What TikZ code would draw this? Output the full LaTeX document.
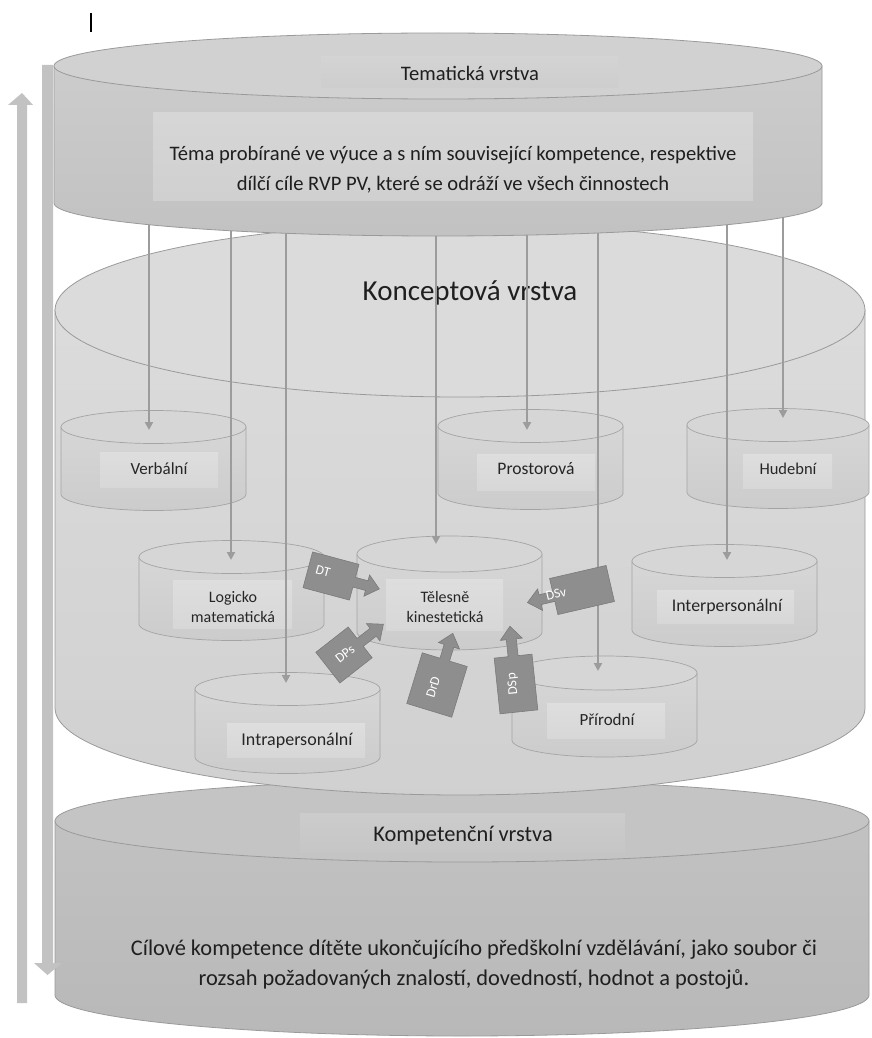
\documentclass[tikz,border=0pt]{standalone}
\usepackage{fontspec}
\setmainfont{Carlito}
\usetikzlibrary{arrows.meta}
\definecolor{outl}{HTML}{9A9A9A}
\definecolor{arrg}{HTML}{9C9C9C}
\definecolor{barg}{HTML}{C2C2C2}
\definecolor{calf}{HTML}{8E8E8E}
\definecolor{cald}{HTML}{7A7A7A}
\colorlet{botS}{black!24}
\colorlet{botT}{black!23}
\colorlet{botL}{black!20}
\colorlet{conS}{black!14}
\colorlet{topS}{black!20}
\colorlet{topT}{black!18}
\colorlet{topL}{black!17}
\colorlet{topB}{black!16}
\colorlet{smL}{black!13}
\newcommand{\mycyl}[7]{%
 \path[#6] ({#1-#4},#2) -- ({#1-#4},#3) -- plot[domain=180:360,samples=90] ({#1+#4*cos(\x)},{#3-#5*sin(\x)}) -- ({#1+#4},#2) -- cycle;
 \path[#7] (#1,#2) ellipse[x radius=#4pt, y radius=#5pt];}
\newcommand{\mycallout}[6]{%
 \begin{scope}[shift={(#1,#2)},rotate=#3]
 \path[callbox] ({-#4/2},{-#5/2}) -- ({#4/2},{-#5/2}) -- ({#4/2},-5) -- ({#6-13},-5) -- ({#6-13},-11) -- (#6,0) -- ({#6-13},11) -- ({#6-13},5) -- ({#4/2},5) -- ({#4/2},{#5/2}) -- ({-#4/2},{#5/2}) -- cycle;
 \end{scope}}
\begin{document}
\begin{tikzpicture}[x=1pt,y=-1pt,
  bigside/.style={draw=outl, line width=0.8pt, top color=#1, bottom color=#1!95!black},
  bigtop/.style={draw=outl, line width=0.8pt, fill=#1},
  smside/.style={draw=outl!90, line width=0.7pt, top color=black!16, bottom color=black!20},
  smtop/.style={draw=outl!90, line width=0.7pt, fill=black!16},
  lbox/.style={top color=#1, bottom color=#1!97!black, draw=none},
  conn/.style={draw=arrg, line width=2.6pt, -{Triangle[length=8pt,width=8pt]}},
  txt/.style={font=\fontsize{20.6}{30}\selectfont, text=black!88, align=center, inner sep=0pt},
  btxt/.style={font=\fontsize{22.4}{30}\selectfont, text=black!88, align=center, inner sep=0pt},
  ltxt/.style={font=\fontsize{#1}{20}\selectfont, text=black!85, align=center, inner sep=0pt},
  ltxt/.default=16,
  callbox/.style={fill=calf, draw=cald, line width=0.6pt},
  ctext/.style={font=\fontsize{13.5}{14}\selectfont, text=white, inner sep=0pt},
  bararrow/.style={fill=barg, draw=none}]
\useasboundingbox[fill=white] (0,0) rectangle (871,1038);

% ---- bottom layer (Kompetencni vrstva)
\mycyl{462}{821}{995}{407}{41}{bigside=botS}{bigtop=botT}
\path[lbox=botL] (300,813) rectangle (625,852);
\node[btxt] (kompl) at (463,836) {Kompetenční vrstva};
\node[btxt] (kompt) at (474,965) {Cílové kompetence dítěte ukončujícího předškolní vzdělávání, jako soubor či\\rozsah požadovaných znalostí, dovedností, hodnot a postojů.};

% ---- concept layer
\mycyl{460}{310}{708}{405}{87}{bigside=conS}{bigtop=conS}
\node[font=\fontsize{29}{30}\selectfont, text=black!88, inner sep=0pt] (konc) at (470,293) {Konceptová vrstva};

% ---- small cylinders
\mycyl{153.5}{427}{494}{92.5}{16.5}{smside}{smtop}
\path[lbox=smL] (100,452) rectangle (218,487);
\node[ltxt=17] (verb) at (159,469) {Verbální};

\mycyl{530.5}{426}{493}{92.5}{16.5}{smside}{smtop}
\path[lbox=smL] (477,454) rectangle (595,490);
\node[ltxt=17.6] (pros) at (536,469) {Prostorová};

\mycyl{778}{425}{492}{91}{16.5}{smside}{smtop}
\path[lbox=smL] (743,454) rectangle (832,488);
\node[ltxt=16.5] (hud) at (788,469) {Hudební};

\mycyl{231.5}{557}{624}{92.5}{16.5}{smside}{smtop}
\path[lbox=smL] (173,580) rectangle (292,628);
\node[ltxt=16] (logm) at (233,607) {Logicko\\matematická};

\mycyl{724.5}{561}{630}{92.5}{16.5}{smside}{smtop}
\path[lbox=smL] (657,590) rectangle (794,623);
\node[ltxt=17.8] (inter) at (727,607) {Interpersonální};

\mycyl{449.5}{554}{632}{92.5}{18}{smside}{smtop}
\path[lbox=smL] (386,579) rectangle (503,630);
\node[ltxt=16] (tel) at (445,607) {Tělesně\\kinestetická};

\mycyl{287.5}{689}{757}{92.5}{16.5}{smside}{smtop}
\path[lbox=smL] (227,723) rectangle (365,757);
\node[ltxt=18] (intra) at (297,741) {Intrapersonální};

\mycyl{604.5}{673}{740}{92.5}{17}{smside}{smtop}
\path[lbox=smL] (547,703) rectangle (665,738);
\node[ltxt=17] (prir) at (607,720) {Přírodní};

% ---- vertical connectors from the thematic layer
\foreach \nm/\xx/\yy in {V/149/430, L/231/560, I/286/683, T/436/544, P/527/430, R/598/671, N/727/560, H/783/418}{
  \coordinate (s\nm) at (\xx,200);
  \coordinate (e\nm) at (\xx,\yy);
  \draw[conn] (s\nm) -- (e\nm);
}

% ---- callouts around Telesne kinesteticka
\mycallout{331}{576}{-15}{48}{37}{50}
\node[ctext, rotate=-15] (cDT) at (323,571) {DT};
\mycallout{344}{655}{38}{41}{39}{50}
\node[ctext, rotate=38] (cDPs) at (345,654) {DPs};
\mycallout{437}{685}{73}{53}{47}{54}
\node[ctext, rotate=73] (cDrD) at (433,687) {DrD};
\mycallout{516}{684}{96}{56}{38}{58}
\node[ctext, rotate=96] (cDSp) at (513,684) {DSp};
\mycallout{582}{590}{193}{58}{37}{56}
\node[ctext, rotate=13] (cDSv) at (556,594) {DSv};

% ---- top layer (Tematicka vrstva)
\mycyl{438}{66}{203}{384}{33}{bigside=topS}{bigtop=topT}
\path[lbox=topL] (321,57) rectangle (618,88);
\node[txt] (temal) at (470,73) {Tematická vrstva};
\path[lbox=topB] (153,113) rectangle (753,200);
\node[txt] (temat) at (453,170) {Téma probírané ve výuce a s ním související kompetence, respektive\\dílčí cíle RVP PV, které se odráží ve všech činnostech};

% ---- side arrows
\path[bararrow] (17,1003) -- (17,105) -- (8,105) -- (22,93) -- (33,105) -- (27,105) -- (27,1003) -- cycle;
\path[bararrow] (42,65) -- (42,963) -- (34,963) -- (47.5,975) -- (62,963) -- (53,963) -- (53,65) -- cycle;

% ---- cursor mark
\coordinate (cur1) at (91,13);
\coordinate (cur2) at (91,32);
\draw[black, line width=1.2pt] (cur1) -- (cur2);
\end{tikzpicture}
\end{document}
